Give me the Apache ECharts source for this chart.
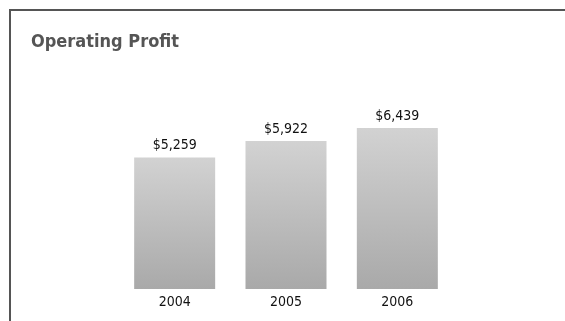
<!DOCTYPE html>
<html>
<head>
<meta charset="utf-8">
<script src="https://cdn.jsdelivr.net/npm/echarts@6/dist/echarts.min.js"></script>
<style>
  html, body { margin: 0; padding: 0; background: #fff; }
  #chart { width: 565px; height: 321px; }
</style>
</head>
<body>
<div id="chart"></div>
<script>
// Operating profit by year (in millions)
const years = ['2004', '2005', '2006'];
const profit = [5259, 5922, 6439];
const titleText = 'Operating Profit';

const fontNarrow = '"DejaVu Sans Condensed", "Liberation Sans Narrow", "Liberation Sans", sans-serif';

const chart = echarts.init(document.getElementById('chart'), null, { renderer: 'canvas' });

chart.setOption({
  backgroundColor: '#ffffff',
  animation: false,
  title: {
    text: titleText,
    left: 26,
    top: 28,
    textStyle: {
      fontFamily: fontNarrow,
      fontSize: 18,
      fontWeight: 'bold',
      color: '#555555'
    }
  },
  // frame: top rule and left rule
  graphic: [{
    type: 'polyline',
    shape: { points: [[565, 10], [10, 10], [10, 321]] },
    style: { stroke: '#555555', lineWidth: 2, fill: null }
  }],
  grid: { left: 119, right: 112, top: 89, bottom: 32 },
  xAxis: {
    type: 'category',
    data: years,
    axisLine: { show: false },
    axisTick: { show: false },
    axisLabel: {
      margin: 6,
      fontFamily: fontNarrow,
      fontSize: 14,
      color: '#111111'
    }
  },
  yAxis: {
    type: 'value',
    min: 0,
    max: 8000,
    show: false,
    splitLine: { show: false }
  },
  series: [{
    type: 'bar',
    data: profit,
    barWidth: 81,
    itemStyle: {
      color: new echarts.graphic.LinearGradient(0, 0, 0, 1, [
        { offset: 0, color: '#d2d2d2' },
        { offset: 1, color: '#a9a9a9' }
      ])
    },
    label: {
      show: true,
      position: 'top',
      distance: 5,
      fontFamily: fontNarrow,
      fontSize: 14,
      color: '#111111',
      formatter: p => '$' + p.value.toLocaleString('en-US')
    }
  }]
});
</script>
</body>
</html>
